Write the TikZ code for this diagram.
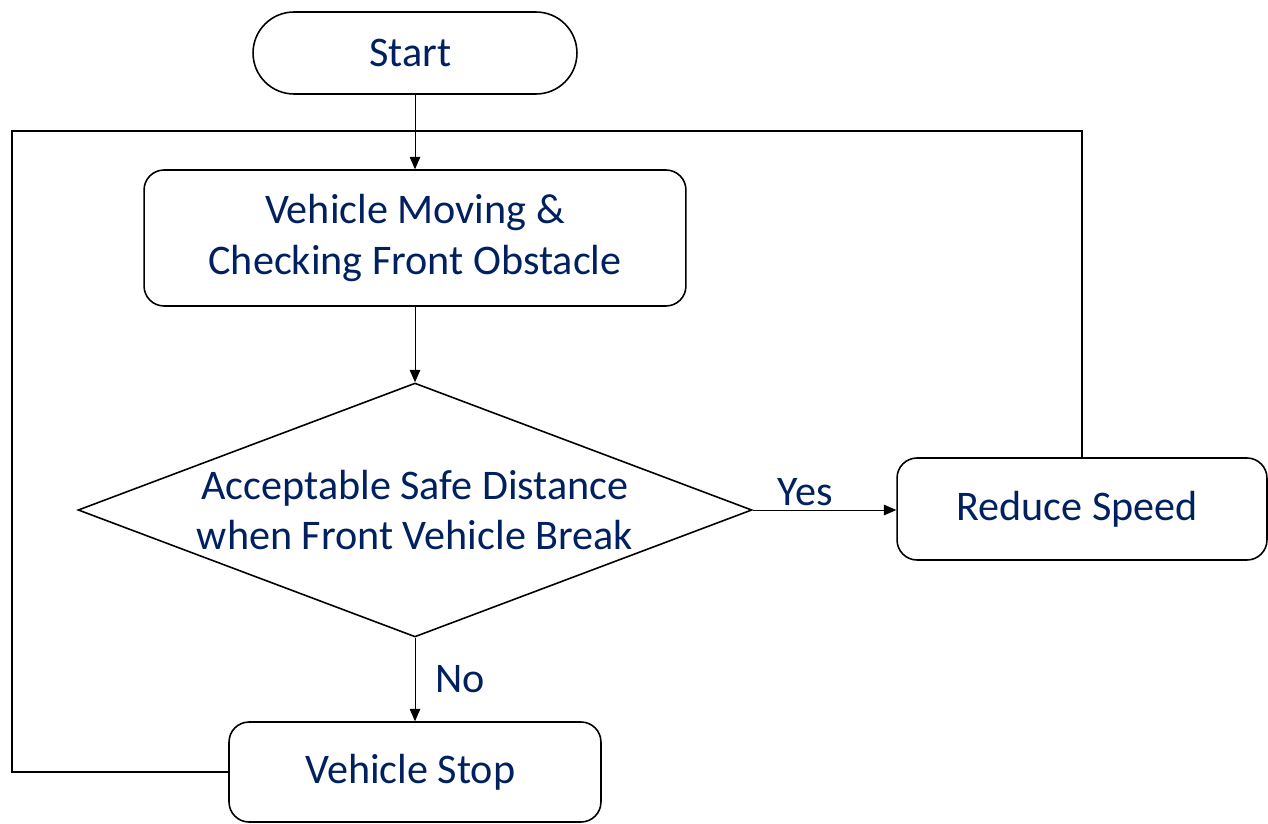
\documentclass[tikz,border=0pt]{standalone}
\usepackage{fontspec}
\setmainfont{Carlito}
\usepackage{tikz}
\usetikzlibrary{shapes.geometric, arrows.meta}
\definecolor{navy}{RGB}{0, 32, 96}
\definecolor{loop}{RGB}{128, 128, 128}

\begin{document}
\begin{tikzpicture}[x=0.02cm, y=-0.02cm,
    every node/.style={font=\fontsize{24}{28.5}\selectfont, text=navy, align=center},
    terminal/.style={draw, line width=0.9pt, rounded corners=0.82cm, minimum width=6.48cm, minimum height=1.64cm},
    process/.style={draw, line width=0.9pt, rounded corners=0.4cm},
    decision/.style={draw, line width=0.9pt, diamond, inner sep=0pt, shape aspect=2.65, minimum width=13.48cm, minimum height=5.08cm},
    flow/.style={line width=0.5pt, -{Triangle[length=7pt, width=6pt]}}]
  \useasboundingbox (0, 0) rectangle (1268, 824);

  \node[terminal] (start) at (415, 53) { Start };
  \node[process, minimum width=10.84cm, minimum height=2.72cm] (check) at (415, 238) { Vehicle Moving \& \\ Checking Front Obstacle };
  \node[decision] (safe) at (415, 510) { Acceptable Safe Distance \\ when Front Vehicle Break };
  \node[process, minimum width=7.4cm, minimum height=2.04cm] (reduce) at (1082, 509) { Reduce Speed };
  \node[process, minimum width=7.44cm, minimum height=2cm] (stop) at (415, 772) { Vehicle Stop };

  \draw[flow] (start) -- (check);
  \draw[flow] (check) -- (safe);
  \draw[flow] (safe.east) -- node[above, pos=0.4, yshift=-1pt] { Yes } (safe.east -| reduce.west);
  \draw[flow] (safe) -- node[right, xshift=8pt] { No } (stop);

  % return path round the chart
  \coordinate (corner) at (12, 131);
  \draw[loop, line width=0.7pt] (reduce.north) |- (corner) |- (stop.west);
\end{tikzpicture}
\end{document}
